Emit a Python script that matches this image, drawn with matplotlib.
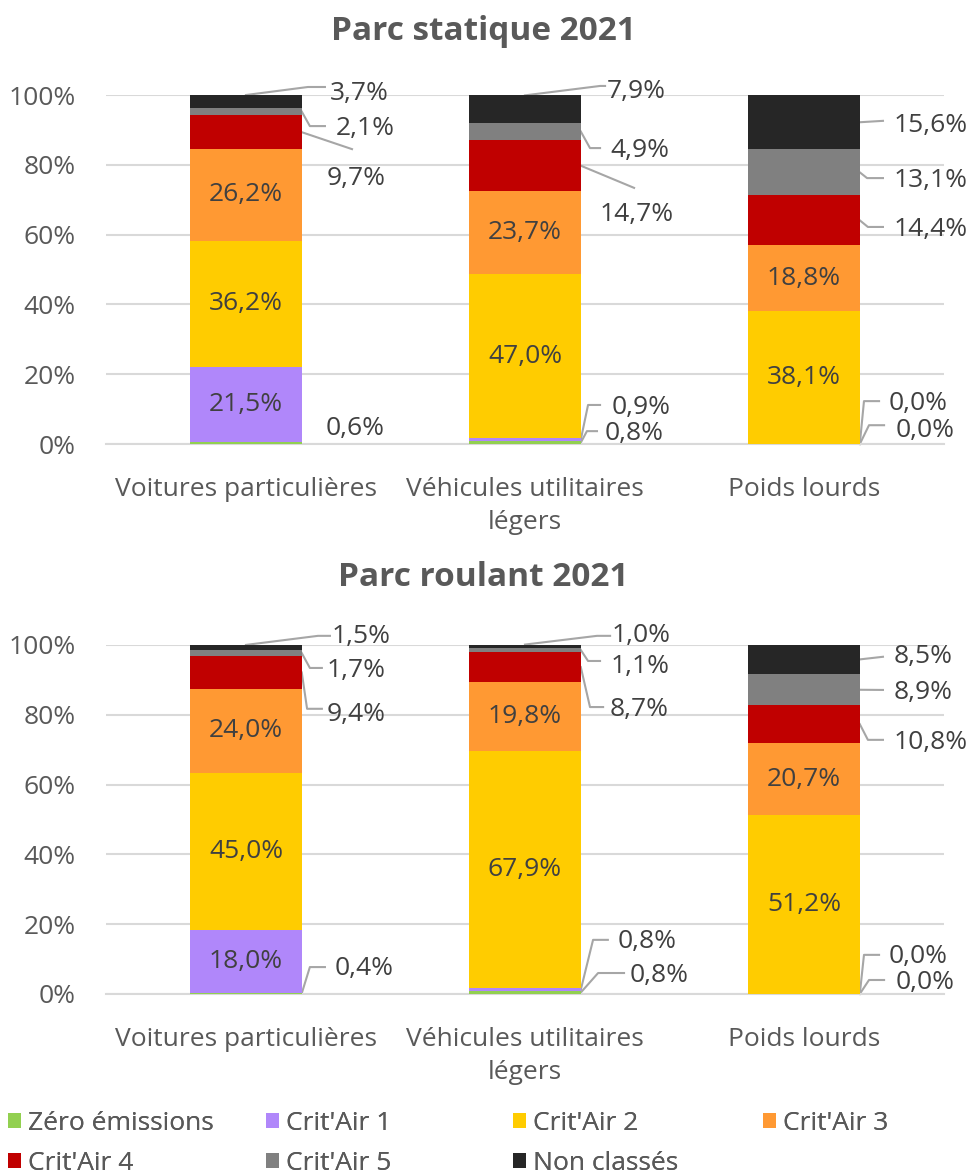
import matplotlib
matplotlib.use("Agg")
import matplotlib.pyplot as plt
import numpy as np

plt.rcParams['font.family'] = ['Open Sans', 'DejaVu Sans']

categories = ["Voitures particulières", "Véhicules utilitaires\nlégers", "Poids lourds"]
series = ["Zéro émissions", "Crit'Air 1", "Crit'Air 2", "Crit'Air 3",
          "Crit'Air 4", "Crit'Air 5", "Non classés"]
colors = ["#92D050", "#B087FA", "#FFCC00", "#FF9933", "#C00000", "#808080", "#262626"]

# values per series, one entry per category (VP, VUL, PL)
statique = {
    "Zéro émissions": [0.6, 0.8, 0.0],
    "Crit'Air 1": [21.5, 0.9, 0.0],
    "Crit'Air 2": [36.2, 47.0, 38.1],
    "Crit'Air 3": [26.2, 23.7, 18.8],
    "Crit'Air 4": [9.7, 14.7, 14.4],
    "Crit'Air 5": [2.1, 4.9, 13.1],
    "Non classés": [3.7, 7.9, 15.6],
}
roulant = {
    "Zéro émissions": [0.4, 0.8, 0.0],
    "Crit'Air 1": [18.0, 0.8, 0.0],
    "Crit'Air 2": [45.0, 67.9, 51.2],
    "Crit'Air 3": [24.0, 19.8, 20.7],
    "Crit'Air 4": [9.4, 8.7, 10.8],
    "Crit'Air 5": [1.7, 1.1, 8.9],
    "Non classés": [1.5, 1.0, 8.5],
}

# leader-line layout for labels placed outside the bars:
# (category, series, anchor, path points (dx, y), label (dx, y))
lead_statique = [
    (0, 6, "top", [(0.222, 102.3), (0.283, 102.3)], (0.30, 100.3)),
    (0, 5, "edge", [(0.229, 91.1), (0.283, 91.1)], (0.32, 90.5)),
    (0, 4, "edge", [(0.38, 84.5)], (0.29, 76.0)),
    (0, 0, None, [], (0.285, 4.6)),
    (1, 6, "top", [(0.269, 102.6), (0.287, 102.6)], (0.294, 100.9)),
    (1, 5, "edge", [(0.233, 84.8), (0.269, 84.8)], (0.305, 84.2)),
    (1, 4, "edge", [(0.391, 73.4)], (0.269, 65.9)),
    (1, 1, "edge", [(0.226, 11.2), (0.269, 11.2)], (0.312, 10.6)),
    (1, 0, "edge", [(0.222, 3.7), (0.258, 3.7)], (0.287, 2.9)),
    (2, 6, "edge", [(0.283, 92.6)], (0.322, 91.4)),
    (2, 5, "edge", [(0.226, 76.2), (0.283, 76.2)], (0.322, 75.4)),
    (2, 4, "edge", [(0.229, 62.2), (0.283, 62.2)], (0.322, 61.6)),
    (2, 1, "edge", [(0.215, 12.3), (0.269, 12.3)], (0.305, 11.7)),
    (2, 0, "edge", [(0.233, 5.4), (0.287, 5.4)], (0.33, 4.0)),
]
lead_roulant = [
    (0, 6, "top", [(0.258, 102.6), (0.301, 102.6)], (0.308, 102.3)),
    (0, 5, "edge", [(0.229, 93.4), (0.272, 93.4)], (0.29, 92.6)),
    (0, 4, "edge", [(0.219, 81.7), (0.272, 81.7)], (0.29, 80.2)),
    (0, 0, "edge", [(0.229, 7.7), (0.283, 7.7)], (0.319, 7.4)),
    (1, 6, "top", [(0.258, 102.6), (0.305, 102.6)], (0.312, 102.6)),
    (1, 5, "edge", [(0.226, 95.4), (0.269, 95.4)], (0.305, 93.7)),
    (1, 4, "edge", [(0.233, 82.2), (0.28, 82.2)], (0.305, 81.4)),
    (1, 1, "edge", [(0.244, 15.5), (0.297, 15.5)], (0.333, 14.9)),
    (1, 0, "edge", [(0.262, 6.0), (0.355, 6.0)], (0.376, 5.4)),
    (2, 6, "edge", [(0.283, 96.6)], (0.322, 96.6)),
    (2, 5, "edge", [(0.283, 87.1)], (0.322, 86.5)),
    (2, 4, "edge", [(0.229, 72.8), (0.283, 72.8)], (0.322, 72.0)),
    (2, 1, "edge", [(0.215, 11.2), (0.269, 11.2)], (0.305, 10.6)),
    (2, 0, "edge", [(0.233, 4.0), (0.287, 4.0)], (0.33, 3.4)),
]

txt = "#595959"
lbl = "#404040"
fs = 19


def fmt(v):
    return f"{v:.1f}".replace(".", ",") + "%"


def draw(ax, data, leaders):
    x = np.arange(len(categories))
    bottom = np.zeros(len(categories))
    for s, c in zip(series, colors):
        vals = np.array(data[s])
        ax.bar(x, vals, 0.4, bottom=bottom, color=c, label=s, zorder=3)
        for i in range(len(x)):
            if vals[i] > 17:
                ax.text(x[i], bottom[i] + vals[i] / 2, fmt(vals[i]), ha="center",
                        va="center", fontsize=fs, color=lbl, zorder=4)
        bottom = bottom + vals
    for cat, si, anchor, path, (lx, ly) in leaders:
        s = series[si]
        val = data[s][cat]
        base = sum(data[series[k]][cat] for k in range(si))
        if anchor is not None:
            if anchor == "top":
                pts = [(cat, base + val)]
            else:
                pts = [(cat + 0.2, base + val / 2)]
            pts += [(cat + dx, y) for dx, y in path]
            px, py = zip(*pts)
            ax.plot(px, py, color="#A6A6A6", lw=1.5, zorder=2, clip_on=False)
        ax.text(cat + lx, ly, fmt(val), ha="left", va="center", fontsize=fs,
                color=lbl, zorder=4, clip_on=False)

    ax.set_xlim(-0.5, 2.5)
    ax.set_ylim(0, 100)
    ax.set_yticks(np.arange(0, 101, 20))
    ax.set_yticklabels([f"{v}%" for v in range(0, 101, 20)])
    ax.set_xticks(x)
    ax.set_xticklabels(categories, linespacing=1.4)
    ax.grid(axis="y", color="#D9D9D9", lw=1.5, zorder=0)
    for sp in ["top", "right", "left"]:
        ax.spines[sp].set_visible(False)
    ax.spines["bottom"].set_color("#D9D9D9")
    ax.spines["bottom"].set_linewidth(1.5)
    ax.tick_params(axis="both", length=0, labelsize=fs, colors=txt)
    ax.tick_params(axis="x", pad=24)
    ax.tick_params(axis="y", pad=22)


fig = plt.figure(figsize=(9.67, 11.76), dpi=100)
ax1 = fig.add_axes([0.1101, 0.6224, 0.8656, 0.2968])
ax2 = fig.add_axes([0.1101, 0.1548, 0.8656, 0.2968])
draw(ax1, statique, lead_statique)
draw(ax2, roulant, lead_roulant)

fig.text(0.5, 1 - 32 / 1176, "Parc statique 2021", ha="center", va="center",
         fontsize=24, fontweight="bold", color=txt)
fig.text(0.5, 1 - 578 / 1176, "Parc roulant 2021", ha="center", va="center",
         fontsize=24, fontweight="bold", color=txt)

# legend: four columns with equal spacing, each holding two entries
handles, labels = ax1.get_legend_handles_labels()
col_x = [8, 266, 513, 763]
for k, cx in enumerate(col_x):
    idx = [k, k + 4] if k + 4 < len(series) else [k]
    leg = fig.legend([handles[i] for i in idx], [labels[i] for i in idx],
                     loc="upper left", bbox_to_anchor=(cx / 967, 1 - 1111 / 1176),
                     frameon=False, fontsize=fs, labelcolor=txt, handlelength=0.5,
                     handleheight=0.5, handletextpad=0.25, labelspacing=0.55,
                     borderpad=0, borderaxespad=0)
    fig.add_artist(leg)

fig.savefig("out.png", dpi=100)
